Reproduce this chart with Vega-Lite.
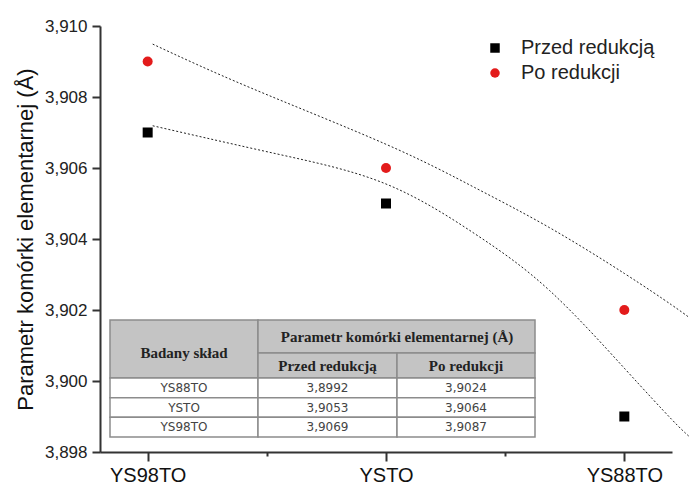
{
  "$schema": "https://vega.github.io/schema/vega-lite/v6.json",
  "width": 572,
  "height": 426,
  "autosize": {"type": "none"},
  "padding": {"left": 100, "top": 26, "right": 17, "bottom": 37},
  "background": "white",
  "config": {
    "view": {"stroke": null},
    "font": "Liberation Sans",
    "axis": {"grid": false}
  },
  "datasets": {
    "points": [
      {"sample": "YS98TO", "pos": 1, "series": "Przed redukcją", "value": 3.907},
      {"sample": "YSTO", "pos": 2, "series": "Przed redukcją", "value": 3.905},
      {"sample": "YS88TO", "pos": 3, "series": "Przed redukcją", "value": 3.899},
      {"sample": "YS98TO", "pos": 1, "series": "Po redukcji", "value": 3.909},
      {"sample": "YSTO", "pos": 2, "series": "Po redukcji", "value": 3.906},
      {"sample": "YS88TO", "pos": 3, "series": "Po redukcji", "value": 3.902}
    ],
    "trend": [
      {"curve": "upper", "x": 1.021, "y": 3.90949},
      {"curve": "upper", "x": 1.431, "y": 3.90826},
      {"curve": "upper", "x": 1.996, "y": 3.90668},
      {"curve": "upper", "x": 2.372, "y": 3.90545},
      {"curve": "upper", "x": 2.686, "y": 3.90432},
      {"curve": "upper", "x": 3.0, "y": 3.90303},
      {"curve": "upper", "x": 3.197, "y": 3.90215},
      {"curve": "upper", "x": 3.27, "y": 3.90180},
      {"curve": "lower", "x": 1.021, "y": 3.90719},
      {"curve": "lower", "x": 1.54, "y": 3.90640},
      {"curve": "lower", "x": 1.996, "y": 3.90556},
      {"curve": "lower", "x": 2.372, "y": 3.90415},
      {"curve": "lower", "x": 2.686, "y": 3.90255},
      {"curve": "lower", "x": 3.0, "y": 3.90036},
      {"curve": "lower", "x": 3.197, "y": 3.89893},
      {"curve": "lower", "x": 3.27, "y": 3.89845}
    ],
    "table": [
      {"c0": 0, "c1": 1, "r0": 0, "r1": 2, "label": "Badany skład", "kind": "h"},
      {"c0": 1, "c1": 3, "r0": 0, "r1": 1, "label": "Parametr komórki elementarnej (Å)", "kind": "h"},
      {"c0": 1, "c1": 2, "r0": 1, "r1": 2, "label": "Przed redukcją", "kind": "h"},
      {"c0": 2, "c1": 3, "r0": 1, "r1": 2, "label": "Po redukcji", "kind": "h"},
      {"c0": 0, "c1": 1, "r0": 2, "r1": 3, "label": "YS88TO", "kind": "b"},
      {"c0": 1, "c1": 2, "r0": 2, "r1": 3, "label": "3,8992", "kind": "b"},
      {"c0": 2, "c1": 3, "r0": 2, "r1": 3, "label": "3,9024", "kind": "b"},
      {"c0": 0, "c1": 1, "r0": 3, "r1": 4, "label": "YSTO", "kind": "b"},
      {"c0": 1, "c1": 2, "r0": 3, "r1": 4, "label": "3,9053", "kind": "b"},
      {"c0": 2, "c1": 3, "r0": 3, "r1": 4, "label": "3,9064", "kind": "b"},
      {"c0": 0, "c1": 1, "r0": 4, "r1": 5, "label": "YS98TO", "kind": "b"},
      {"c0": 1, "c1": 2, "r0": 4, "r1": 5, "label": "3,9069", "kind": "b"},
      {"c0": 2, "c1": 3, "r0": 4, "r1": 5, "label": "3,9087", "kind": "b"}
    ]
  },
  "layer": [
    {
      "layer": [
        {
          "data": {"name": "trend"},
          "mark": {"type": "line", "color": "#222222", "strokeWidth": 1, "strokeDash": [2, 2], "interpolate": "natural", "clip": false},
          "encoding": {
            "x": {"field": "x", "type": "quantitative"},
            "y": {"field": "y", "type": "quantitative"},
            "detail": {"field": "curve"}
          }
        },
        {
          "data": {"name": "points"},
          "mark": {"type": "point", "filled": true, "opacity": 1, "size": 100},
          "encoding": {
            "x": {
              "field": "pos", "type": "quantitative",
              "scale": {"domain": [0.8, 3.2], "nice": false, "zero": false},
              "axis": {
                "title": null,
                "values": [1, 1.5, 2, 2.5, 3],
                "labelExpr": "datum.value == 1 ? 'YS98TO' : datum.value == 2 ? 'YSTO' : datum.value == 3 ? 'YS88TO' : ''",
                "labelFontSize": 20,
                "labelColor": "#111111",
                "labelPadding": 4,
                "domainColor": "#333333",
                "domainWidth": 2,
                "tickColor": "#333333",
                "tickWidth": 2,
                "tickSize": {"condition": {"test": "datum.value % 1 == 0", "value": 9}, "value": 4}
              }
            },
            "y": {
              "field": "value", "type": "quantitative",
              "scale": {"domain": [3.898, 3.91], "nice": false, "zero": false},
              "axis": {
                "title": "Parametr komórki elementarnej (Å)",
                "titleFontSize": 22,
                "titleFontWeight": "normal",
                "titleColor": "#111111",
                "titlePadding": 7,
                "values": [3.898, 3.899, 3.9, 3.901, 3.902, 3.903, 3.904, 3.905, 3.906, 3.907, 3.908, 3.909, 3.91],
                "labelExpr": "round(datum.value * 1000) % 2 == 0 ? replace(format(datum.value, '.3f'), '.', ',') : ''",
                "labelFontSize": 17,
                "labelColor": "#222222",
                "labelPadding": 5,
                "domainColor": "#333333",
                "domainWidth": 2,
                "tickColor": "#333333",
                "tickWidth": 2,
                "tickSize": {"condition": {"test": "round(datum.value * 1000) % 2 == 0", "value": 8}, "value": 5}
              }
            },
            "shape": {
              "field": "series", "type": "nominal",
              "scale": {"domain": ["Przed redukcją", "Po redukcji"], "range": ["square", "circle"]},
              "legend": {
                "title": null, "orient": "none", "legendX": 385, "legendY": 12,
                "labelFontSize": 20, "labelColor": "#222222", "labelOffset": 16,
                "symbolSize": 90, "rowPadding": 5
              }
            },
            "color": {
              "field": "series", "type": "nominal",
              "scale": {"domain": ["Przed redukcją", "Po redukcji"], "range": ["#000000", "#e31b1b"]},
              "legend": {
                "title": null, "orient": "none", "legendX": 385, "legendY": 12,
                "labelFontSize": 20, "labelColor": "#222222", "labelOffset": 16,
                "symbolSize": 90, "rowPadding": 5
              }
            }
          }
        }
      ]
    },
    {
      "data": {"name": "table"},
      "transform": [
        {"calculate": "(datum.c0 + datum.c1) / 2", "as": "cx"},
        {"calculate": "(datum.r0 + datum.r1) / 2", "as": "cy"}
      ],
      "layer": [
        {
          "mark": {"type": "rect", "stroke": "#8c8c8c", "strokeWidth": 1.5},
          "encoding": {
            "x": {"field": "c0", "type": "quantitative", "scale": {"domain": [0, 1, 2, 3], "range": [10, 158, 297, 435]}, "axis": null},
            "x2": {"field": "c1"},
            "y": {"field": "r0", "type": "quantitative", "scale": {"domain": [0, 1, 2, 5], "range": [294, 327, 352, 411]}, "axis": null},
            "y2": {"field": "r1"},
            "fill": {"condition": {"test": "datum.kind == 'h'", "value": "#c4c4c4"}, "value": "#ffffff"}
          }
        },
        {
          "transform": [{"filter": "datum.kind == 'h'"}],
          "mark": {"type": "text", "font": "Liberation Serif", "fontWeight": "bold", "fontSize": 15, "color": "#222222", "baseline": "middle"},
          "encoding": {
            "x": {"field": "cx", "type": "quantitative", "scale": {"domain": [0, 1, 2, 3], "range": [10, 158, 297, 435]}, "axis": null},
            "y": {"field": "cy", "type": "quantitative", "scale": {"domain": [0, 1, 2, 5], "range": [294, 327, 352, 411]}, "axis": null},
            "text": {"field": "label"}
          }
        },
        {
          "transform": [{"filter": "datum.kind == 'b'"}],
          "mark": {"type": "text", "font": "DejaVu Sans", "fontSize": 12, "color": "#444444", "baseline": "middle"},
          "encoding": {
            "x": {"field": "cx", "type": "quantitative", "scale": {"domain": [0, 1, 2, 3], "range": [10, 158, 297, 435]}, "axis": null},
            "y": {"field": "cy", "type": "quantitative", "scale": {"domain": [0, 1, 2, 5], "range": [294, 327, 352, 411]}, "axis": null},
            "text": {"field": "label"}
          }
        }
      ]
    }
  ],
  "resolve": {"scale": {"x": "independent", "y": "independent"}}
}
